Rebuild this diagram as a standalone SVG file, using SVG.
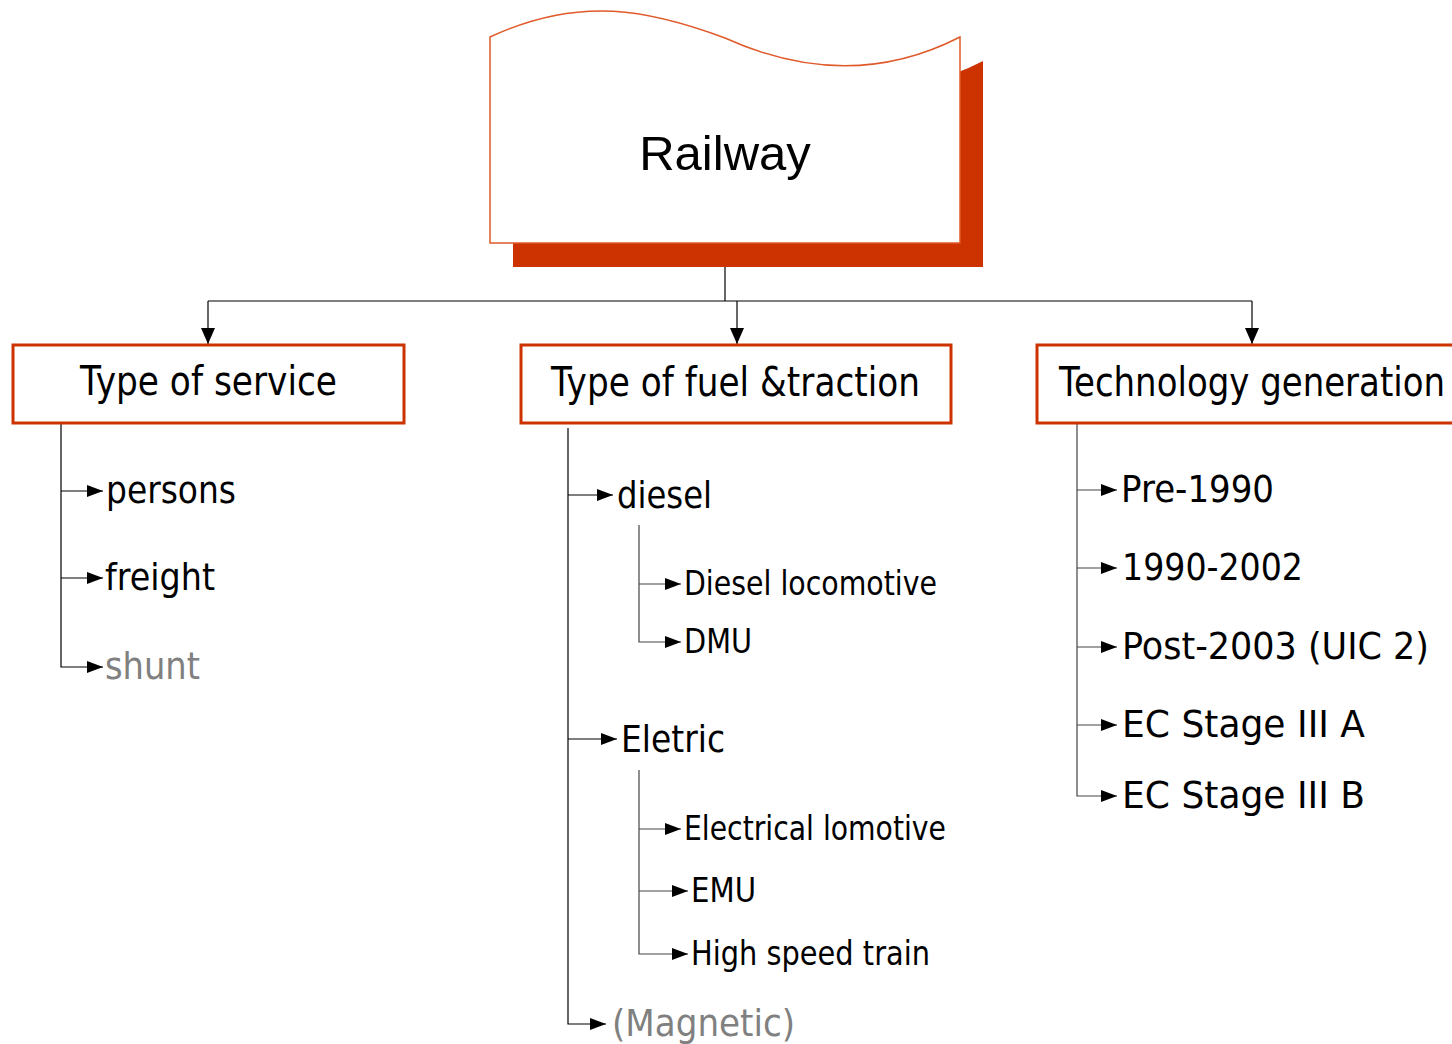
<svg xmlns="http://www.w3.org/2000/svg" width="1452" height="1044" viewBox="0 0 1452 1044">
<defs>
<style>
.box{fill:#fff;stroke:#cc3300;stroke-width:3}
.t{font-family:"DejaVu Sans","Liberation Sans",sans-serif;fill:#000}
.bt{font-size:40px}
.it{font-size:38px}
.st{font-size:33px}
.gray{fill:#808080}
.c{fill:none;stroke:#000;stroke-width:1.2}
.cs{fill:none;stroke:#444;stroke-width:1.2}
</style>
<marker id="ah" markerWidth="16" markerHeight="14" refX="16" refY="7" orient="auto" markerUnits="userSpaceOnUse"><path d="M0,1 L16,7 L0,13 z" fill="#000"/></marker>
<marker id="ahd" markerWidth="16" markerHeight="16" refX="16" refY="8" orient="auto" markerUnits="userSpaceOnUse"><path d="M0,1 L16,8 L0,15 z" fill="#000"/></marker>
<path id="wave" d="M490,37 C580,-5 650,10 725,38 C800,72 880,78 960,37 L960,243 L490,243 Z"/>
</defs>
<rect width="1452" height="1044" fill="#fff"/>
<g id="connectors">
<path class="c" d="M725,243 V301"/>
<path class="c" d="M208,301 H1252"/>
<path class="c" d="M208,301 V344" marker-end="url(#ahd)"/>
<path class="c" d="M737,301 V344" marker-end="url(#ahd)"/>
<path class="c" d="M1252,301 V344" marker-end="url(#ahd)"/>
<path class="c" d="M61,423 V667 H103" marker-end="url(#ah)"/>
<path class="c" d="M61,491 H103" marker-end="url(#ah)"/>
<path class="c" d="M61,578 H103" marker-end="url(#ah)"/>
<path class="c" d="M568,428 V1024 H606" marker-end="url(#ah)"/>
<path class="c" d="M568,495 H613" marker-end="url(#ah)"/>
<path class="c" d="M568,739 H617" marker-end="url(#ah)"/>
<path class="cs" d="M639,525 V642 H681" marker-end="url(#ah)"/>
<path class="cs" d="M639,584 H681" marker-end="url(#ah)"/>
<path class="cs" d="M639,770 V954 H688" marker-end="url(#ah)"/>
<path class="cs" d="M639,829 H681" marker-end="url(#ah)"/>
<path class="cs" d="M639,891 H688" marker-end="url(#ah)"/>
<path class="cs" d="M1077,423 V796 H1117" marker-end="url(#ah)"/>
<path class="cs" d="M1077,490 H1117" marker-end="url(#ah)"/>
<path class="cs" d="M1077,568 H1117" marker-end="url(#ah)"/>
<path class="cs" d="M1077,647 H1117" marker-end="url(#ah)"/>
<path class="cs" d="M1077,725 H1117" marker-end="url(#ah)"/>
</g>
<g id="railway">
<use href="#wave" transform="translate(23,24)" fill="#cc3300"/>
<use href="#wave" fill="#fff" stroke="#e05a2a" stroke-width="1.5"/>
<text x="725" y="170" text-anchor="middle" font-family="'Liberation Sans',Arial,sans-serif" font-size="49" fill="#000">Railway</text>
</g>
<g id="service">
<rect class="box" x="13" y="345" width="391" height="78"/>
<text class="t bt" x="80" y="395" textLength="257" lengthAdjust="spacingAndGlyphs">Type of service</text>
</g>
<g id="fuel">
<rect class="box" x="521" y="345" width="430" height="78"/>
<text class="t bt" x="551" y="396" textLength="369" lengthAdjust="spacingAndGlyphs">Type of fuel &amp;traction</text>
</g>
<g id="tech">
<rect class="box" x="1037" y="345" width="430" height="78"/>
<text class="t bt" x="1059" y="396" textLength="386" lengthAdjust="spacingAndGlyphs">Technology generation</text>
</g>
<g id="persons"><text class="t it" x="106" y="503" textLength="130" lengthAdjust="spacingAndGlyphs">persons</text></g>
<g id="freight"><text class="t it" x="105" y="590" textLength="110" lengthAdjust="spacingAndGlyphs">freight</text></g>
<g id="shunt"><text class="t it gray" x="105" y="679" textLength="95" lengthAdjust="spacingAndGlyphs">shunt</text></g>
<g id="diesel"><text class="t it" x="617" y="508" textLength="95" lengthAdjust="spacingAndGlyphs">diesel</text></g>
<g id="diesel-loco"><text class="t st" x="684" y="595" textLength="253" lengthAdjust="spacingAndGlyphs">Diesel locomotive</text></g>
<g id="dmu"><text class="t st" x="684" y="653" textLength="68" lengthAdjust="spacingAndGlyphs">DMU</text></g>
<g id="eletric"><text class="t it" x="621" y="752" textLength="104" lengthAdjust="spacingAndGlyphs">Eletric</text></g>
<g id="elec-loco"><text class="t st" x="684" y="840" textLength="262" lengthAdjust="spacingAndGlyphs">Electrical lomotive</text></g>
<g id="emu"><text class="t st" x="691" y="902" textLength="65" lengthAdjust="spacingAndGlyphs">EMU</text></g>
<g id="hst"><text class="t st" x="691" y="965" textLength="239" lengthAdjust="spacingAndGlyphs">High speed train</text></g>
<g id="magnetic"><text class="t it gray" x="612" y="1036" textLength="183" lengthAdjust="spacingAndGlyphs">(Magnetic)</text></g>
<g id="pre1990"><text class="t it" x="1121" y="502" textLength="153" lengthAdjust="spacingAndGlyphs">Pre-1990</text></g>
<g id="y1990"><text class="t it" x="1122" y="580" textLength="181" lengthAdjust="spacingAndGlyphs">1990-2002</text></g>
<g id="post2003"><text class="t it" x="1122" y="659" textLength="307" lengthAdjust="spacingAndGlyphs">Post-2003 (UIC 2)</text></g>
<g id="ec3a"><text class="t it" x="1122" y="737" textLength="243" lengthAdjust="spacingAndGlyphs">EC Stage III A</text></g>
<g id="ec3b"><text class="t it" x="1122" y="808" textLength="243" lengthAdjust="spacingAndGlyphs">EC Stage III B</text></g>
</svg>
